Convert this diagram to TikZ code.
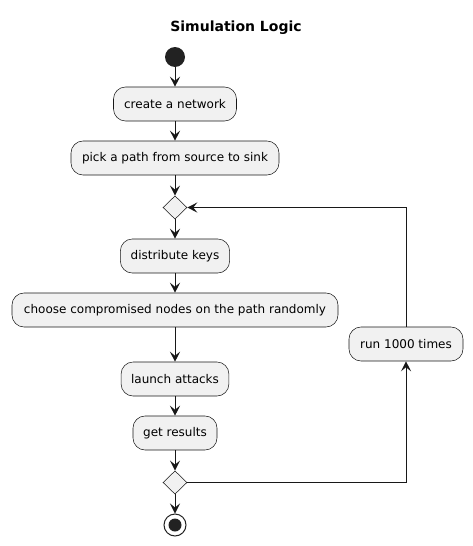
\documentclass[tikz,border=0pt]{standalone}
\usepackage{fontspec}
\setmainfont{DejaVu Sans}
\usetikzlibrary{shapes.geometric,arrows.meta}
\definecolor{ink}{HTML}{181818}
\definecolor{boxfill}{HTML}{F1F1F1}
\definecolor{dot}{HTML}{222222}
\begin{document}
\begin{tikzpicture}[x=0.75pt,y=-0.75pt,
  act/.style={draw=ink,line width=0.4pt,fill=boxfill,rounded corners=9pt,
    minimum height=25.5pt,inner xsep=7.5pt,inner ysep=0pt,font=\fontsize{9pt}{11pt}\selectfont},
  dec/.style={diamond,draw=ink,line width=0.4pt,fill=boxfill,inner sep=0pt,
    minimum width=18pt,minimum height=17.5pt},
  flow/.style={draw=ink,line width=0.75pt,-{Stealth[length=7.5pt,width=7.5pt,inset=3pt]}}]
\useasboundingbox (0,0) rectangle (473,546);
\node[font=\bfseries\fontsize{10.5pt}{12pt}\selectfont] (title) at (236,28) {Simulation Logic};
\node[circle,fill=dot,inner sep=0pt,minimum size=15pt] (start) at (175,57) {};
\node[act,minimum width=92.25pt] (create) at (175,104) {create a network};
\node[act,minimum width=156pt] (pick) at (175,158) {pick a path from source to sink};
\node[dec] (d1) at (175,207.5) {};
\node[act,minimum width=82pt] (dist) at (175,256) {distribute keys};
\node[act,minimum width=244.5pt] (choose) at (175,310) {choose compromised nodes on the path randomly};
\node[act,minimum width=78.75pt] (launch) at (175,379) {launch attacks};
\node[act,minimum width=63pt] (get) at (175,433) {get results};
\node[dec] (d2) at (175,482.5) {};
\node[act,minimum width=85.5pt] (run) at (406,344) {run 1000 times};
\node[circle,draw=dot,line width=0.75pt,fill=white,inner sep=0pt,minimum size=16.5pt] (stop) at (175,525) {};
\node[circle,fill=dot,inner sep=0pt,minimum size=9.75pt] (stopdot) at (175,525) {};
\draw[flow] (start) -- (create);
\draw[flow] (create) -- (pick);
\draw[flow] (pick) -- (d1.north);
\draw[flow] (d1.south) -- (dist);
\draw[flow] (dist) -- (choose);
\draw[flow] (choose) -- (launch);
\draw[flow] (launch) -- (get);
\draw[flow] (get) -- (d2.north);
\draw[flow] (d2.south) -- (stop.north);
\draw[flow] (d2.east) -| (run.south);
\draw[flow] (run.north) |- (d1.east);
\end{tikzpicture}
\end{document}
